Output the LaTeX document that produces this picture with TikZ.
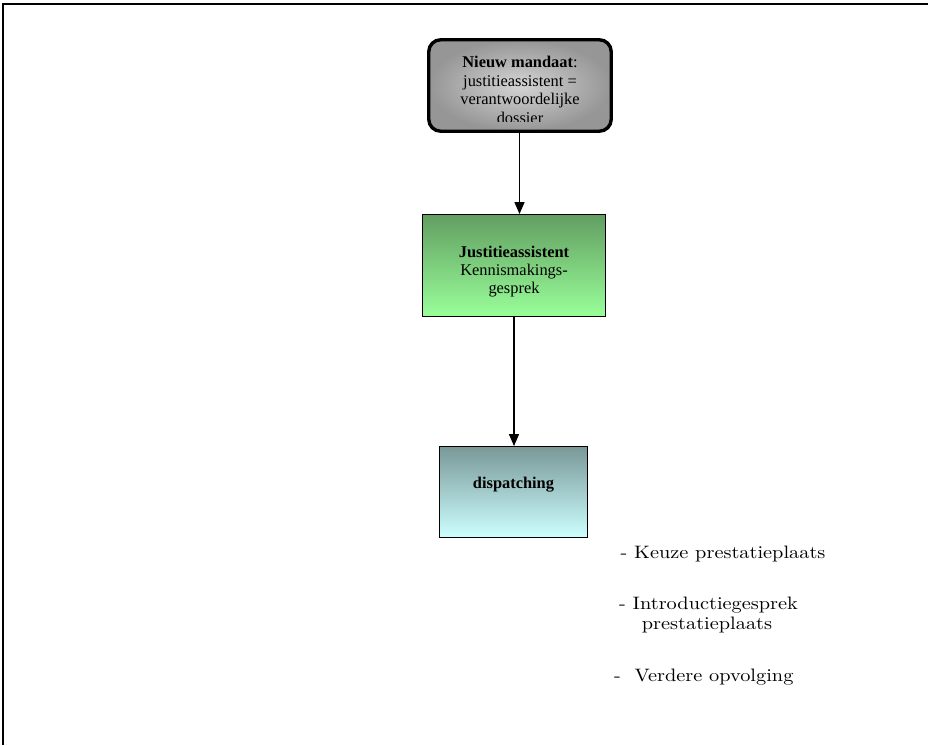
\documentclass[tikz,border=0pt]{standalone}
\usepackage{fontspec}
\newfontfamily\boxfont{Liberation Serif}
\newfontfamily\listfont{lmroman10-regular.otf}[FakeStretch=1.13]
\usetikzlibrary{arrows.meta}

\definecolor{mandaatin}{RGB}{212,212,212}
\definecolor{mandaatout}{RGB}{150,150,150}
\definecolor{greentop}{RGB}{98,158,98}
\definecolor{greenbot}{RGB}{153,255,153}
\definecolor{cyantop}{RGB}{122,152,152}
\definecolor{cyanbot}{RGB}{204,255,255}

\tikzset{
  x=1pt, y=-1pt,
  boxtext/.style={inner sep=0pt, align=center, text=black,
    font=\boxfont\fontsize{16.4}{18.7}\selectfont},
  flowbox/.style={draw=black, line width=1.4pt, inner sep=0pt},
  listtext/.style={inner sep=0pt, anchor=base west, text=black,
    font=\listfont\fontsize{18}{20}\selectfont},
  flowarrow/.style={draw=black, line width=1.3pt,
    -{Triangle[length=12pt, width=10pt]}},
  frameline/.style={draw=black, line width=1.5pt}
}

\begin{document}
\begin{tikzpicture}
  \useasboundingbox (0,0) rectangle (928,745);

  % outer frame (top and left edges)
  \draw[frameline] (928,4) -- (3,4) -- (3,745);

  % new mandate box
  \node[flowbox, line width=3.4pt, rounded corners=12pt,
        minimum width=182.5pt, minimum height=91.5pt,
        inner color=mandaatin, outer color=mandaatout]
        (mandaat) at (520,85.5) {};
  \begin{scope}
    \clip (430,40) rectangle (610,121.7);
    \node[boxtext, anchor=north] (mandaattxt) at (520,56)
      {\textbf{Nieuw mandaat}:\\justitieassistent =\\verantwoordelijke\\dossier};
  \end{scope}

  % introductory talk box
  \node[flowbox, minimum width=182.5pt, minimum height=101.5pt,
        top color=greentop, bottom color=greenbot]
        (kennis) at (514,265.5) {};
  \node[boxtext, anchor=north, font=\boxfont\fontsize{16.4}{18.2}\selectfont]
        (kennistxt) at (514,245.6)
        {\textbf{Justitieassistent}\\Kennismakings-\\gesprek};

  % dispatching box
  \node[flowbox, minimum width=147.5pt, minimum height=90.5pt,
        top color=cyantop, bottom color=cyanbot]
        (dispatch) at (513.5,492) {};
  \node[boxtext, anchor=base] (dispatchtxt) at (513.5,488)
        {\textbf{dispatching}};

  % connectors
  \draw[flowarrow] (mandaat.south -| 519.5,0) -- (kennis.north -| 519.5,0);
  \draw[flowarrow] (kennis.south -| 514,0) -- (dispatch.north -| 514,0);

  % follow-up steps
  \node[listtext] (stap1) at (620.5,558) {- Keuze prestatieplaats};
  \node[listtext] (stap2) at (619,609) {- Introductiegesprek};
  \node[listtext] (stap2b) at (641.7,629.5) {prestatieplaats};
  \node[listtext] (stap3) at (614,681) {-\ \ Verdere opvolging};
\end{tikzpicture}
\end{document}
